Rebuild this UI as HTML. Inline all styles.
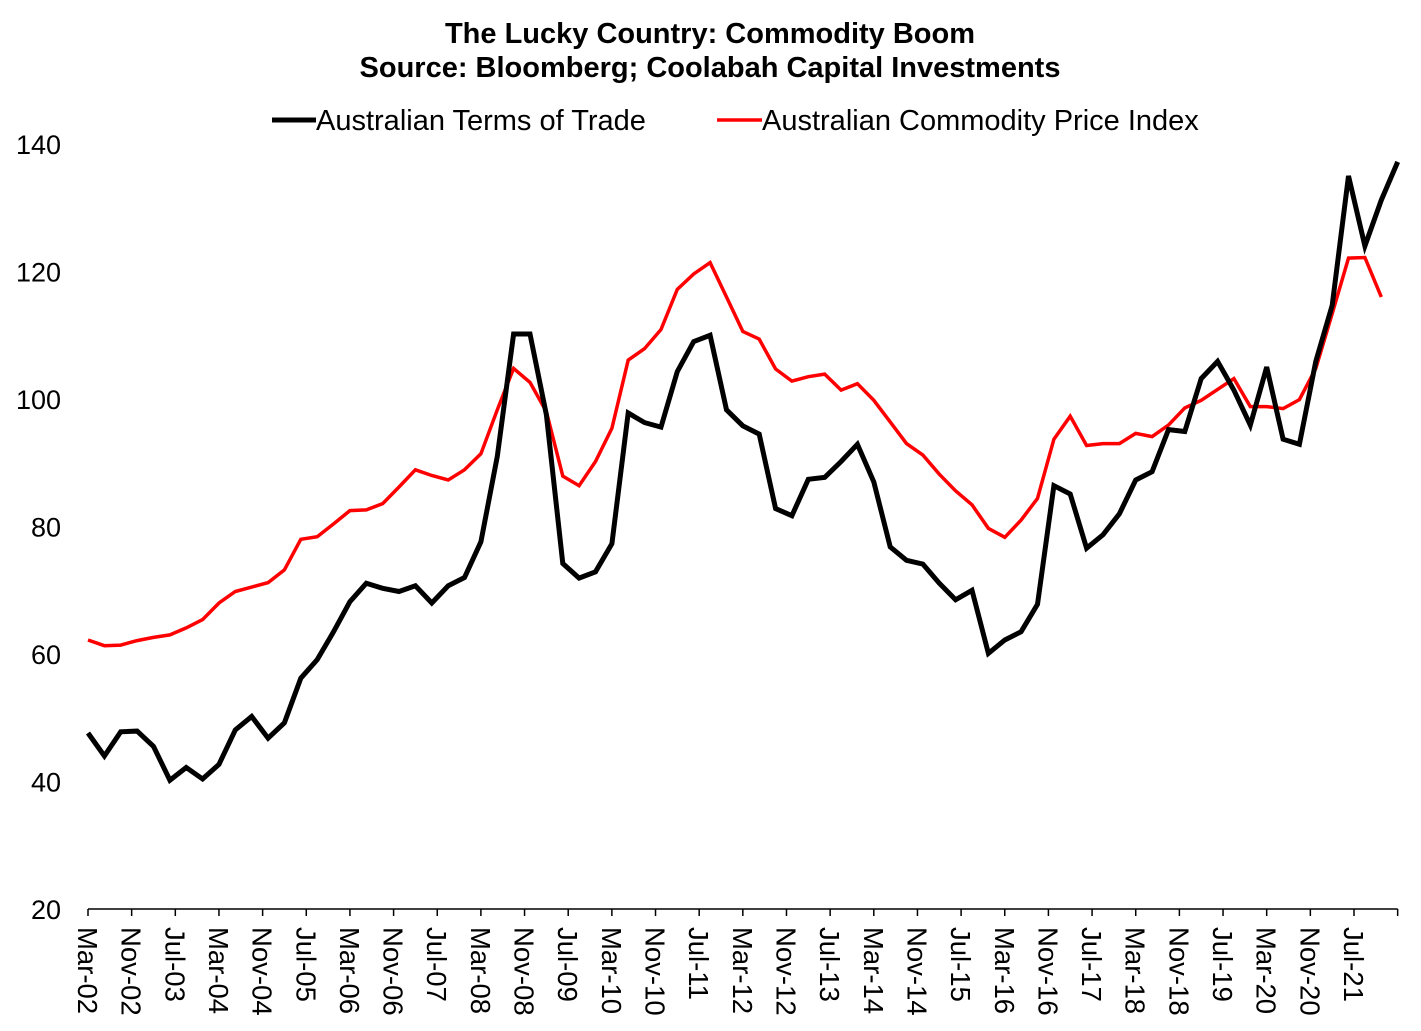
<!DOCTYPE html>
<html><head><meta charset="utf-8"><style>
html,body{margin:0;padding:0;background:#fff;}
svg{display:block;font-family:"Liberation Sans",Arial,sans-serif;}
</style></head><body>
<svg id="chart" width="1421" height="1031" viewBox="0 0 1421 1031">
<text x="710" y="43" text-anchor="middle" font-size="29" font-weight="bold">The Lucky Country: Commodity Boom</text>
<text x="710" y="77" text-anchor="middle" font-size="29" font-weight="bold">Source: Bloomberg; Coolabah Capital Investments</text>
<g>
<g>
<line x1="272" y1="120" x2="316" y2="120" stroke="#000" stroke-width="5"/>
<text x="316" y="130" font-size="29">Australian Terms of Trade</text></g>
<g>
<line x1="717" y1="120" x2="762" y2="120" stroke="#ff0000" stroke-width="3.5"/>
<text x="762" y="130" font-size="29">Australian Commodity Price Index</text></g>
</g>
<g id="yaxis"></g>
<g id="xaxis"></g>
<g id="series"></g>
</svg>
<script>
const yTicks = [20,40,60,80,100,120,140];
const xTickLabels = ["Mar-02","Nov-02","Jul-03","Mar-04","Nov-04","Jul-05","Mar-06","Nov-06","Jul-07","Mar-08","Nov-08","Jul-09","Mar-10","Nov-10","Jul-11","Mar-12","Nov-12","Jul-13","Mar-14","Nov-14","Jul-15","Mar-16","Nov-16","Jul-17","Mar-18","Nov-18","Jul-19","Mar-20","Nov-20","Jul-21"];
// quarterly from Mar-02
const termsOfTrade = [47.6,44.0,47.8,47.9,45.5,40.2,42.2,40.4,42.7,48.1,50.2,46.8,49.2,56.2,59.1,63.5,68.2,71.1,70.3,69.8,70.7,68.0,70.7,72.0,77.6,91.0,110.2,110.2,97.5,74.2,71.9,72.9,77.3,97.8,96.3,95.6,104.3,109.0,110.0,98.3,95.8,94.5,82.8,81.7,87.4,87.7,90.2,92.9,87.0,76.8,74.7,74.1,71.1,68.5,70.0,60.1,62.2,63.5,67.8,86.4,85.1,76.6,78.7,82.0,87.3,88.6,95.2,94.9,103.2,105.9,101.4,95.9,105.0,93.7,92.9,105.9,114.7,135.0,124.0,131.2,137.2];
const commodityIndex = [62.2,61.3,61.4,62.1,62.6,63.0,64.1,65.4,68.0,69.8,70.5,71.2,73.2,78.0,78.4,80.4,82.5,82.6,83.6,86.2,88.9,88.0,87.3,88.9,91.4,98.3,104.8,102.6,98.0,87.9,86.4,90.2,95.4,106.1,107.9,110.9,117.2,119.6,121.4,116.0,110.6,109.4,104.7,102.8,103.5,103.9,101.4,102.4,99.8,96.4,93.0,91.2,88.2,85.6,83.4,79.7,78.3,81.0,84.4,93.7,97.3,92.7,93.0,93.0,94.6,94.1,95.9,98.6,99.8,101.5,103.2,98.8,98.8,98.5,99.9,104.8,113.4,122.1,122.2,116.0];

const NS="http://www.w3.org/2000/svg";
const X0=88, MONTH=(1354-88)/232;
const xAt = q => X0 + q*3*MONTH;
const xMonth = m => X0 + m*MONTH;
const yAt = v => 909 - (v-20)*(909-144)/120;
function mk(tag, attrs, parent){const e=document.createElementNS(NS,tag);for(const k in attrs)e.setAttribute(k,attrs[k]);parent.appendChild(e);return e;}

const ya=document.getElementById('yaxis');
yTicks.forEach(v=>{
  const t=mk('text',{x:61,y:yAt(v)+10,'text-anchor':'end','font-size':'27'},ya);
  t.textContent=v;
  
  
});
const xa=document.getElementById('xaxis');
const ax=mk('line',{x1:X0,y1:909,x2:X0+80*3*MONTH,y2:909,stroke:'#000','stroke-width':1.5},xa);


for(let i=0;i<=30;i++){
  const x=xMonth(i*8);
  mk('line',{x1:x,y1:909,x2:x,y2:916,stroke:'#000','stroke-width':1.5},xa);
}
xTickLabels.forEach((lab,i)=>{
  const x=xMonth(i*8);
  const t=mk('text',{x:0,y:0,'font-size':'27.5',transform:`translate(${x-10},927) rotate(90)`},xa);
  t.textContent=lab;
  
  
});
const sg=document.getElementById('series');
function line(data,color,w,name){
  const d=data.map((v,i)=>(i?'L':'M')+xAt(i).toFixed(1)+' '+yAt(v).toFixed(1)).join(' ');
  const p=mk('path',{d:d,fill:'none',stroke:color,'stroke-width':w,'stroke-linejoin':'miter'},sg);
  
  
}
line(commodityIndex,'#ff0000',3.5,'commodity-price-index-line');
line(termsOfTrade,'#000000',5,'terms-of-trade-line');
</script>
</body></html>
